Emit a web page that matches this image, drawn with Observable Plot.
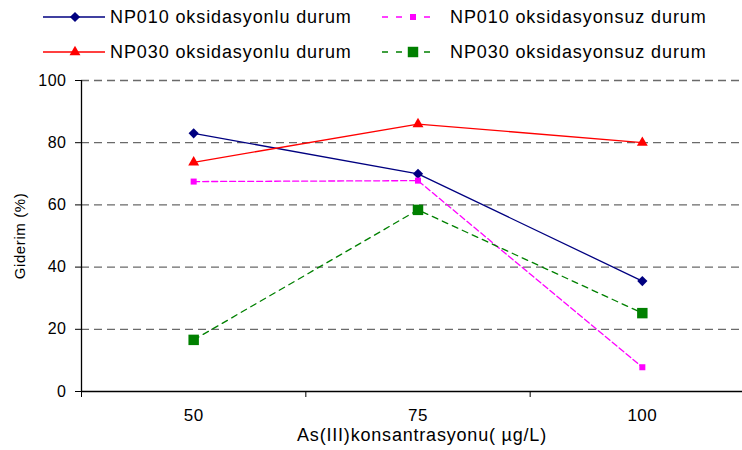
<!DOCTYPE html>
<html>
<head>
<meta charset="utf-8">
<script src="https://cdn.jsdelivr.net/npm/d3@7"></script>
<script src="https://cdn.jsdelivr.net/npm/@observablehq/plot@0.6"></script>
<style>
  body { margin: 0; background: #fff; font-family: "Liberation Sans", Arial, sans-serif; }
  #legend { display: block; }
  #chart svg { display: block; }
</style>
</head>
<body>
<svg id="legend" width="742" height="68"></svg>
<div id="chart"></div>
<script>
// ---- data ----
const concentrations = [50, 75, 100];
const seriesNames = [
  "NP010 oksidasyonlu durum",
  "NP010 oksidasyonsuz durum",
  "NP030 oksidasyonlu durum",
  "NP030 oksidasyonsuz durum"
];
const np010Oks   = [83, 70, 35.5];
const np010Oksuz = [67.5, 67.8, 7.8];
const np030Oks   = [73.7, 86, 80];
const np030Oksuz = [16.6, 58.4, 25.2];
const yTicks = [0, 20, 40, 60, 80, 100];
const xLabel = "As(III)konsantrasyonu( µg/L)";
const yLabel = "Giderim (%)";

// ---- styles ----
const seriesValues = [np010Oks, np010Oksuz, np030Oks, np030Oksuz];
const styles = [
  {color: "#000080", dash: null,  symbol: "diamond2",  d3sym: d3.symbolDiamond2,  r: 4.6},
  {color: "#FF00FF", dash: "6,3", symbol: "square",    d3sym: d3.symbolSquare,    r: 3.4},
  {color: "#FF0000", dash: null,  symbol: "triangle2", d3sym: d3.symbolTriangle2, r: 5.2},
  {color: "#008000", dash: "6,5", symbol: "square",    d3sym: d3.symbolSquare,    r: 5.9}
];

const rows = [];
seriesNames.forEach((name, i) => {
  concentrations.forEach((c, j) => rows.push({series: name, conc: c, value: seriesValues[i][j]}));
});

const step = concentrations[1] - concentrations[0];
const xDomain = [concentrations[0] - step / 2, concentrations[concentrations.length - 1] + step / 2];
const boundaries = d3.range(xDomain[0], xDomain[1] + step / 2, step);

const marks = [
  Plot.ruleY(yTicks.filter(d => d > 0), {stroke: "#6a6a6a", strokeWidth: 1.3, strokeDasharray: "8,5"})
];
seriesNames.forEach((name, i) => {
  const s = styles[i];
  const data = rows.filter(d => d.series === name);
  marks.push(Plot.line(data, {x: "conc", y: "value", stroke: s.color, strokeWidth: 1.3, strokeDasharray: s.dash}));
});
seriesNames.forEach((name, i) => {
  const s = styles[i];
  const data = rows.filter(d => d.series === name);
  marks.push(Plot.dot(data, {x: "conc", y: "value", symbol: () => s.symbol, fill: s.color, stroke: "none", r: s.r}));
});
marks.push(
  Plot.ruleY([0], {stroke: "#000", strokeWidth: 1.3}),
  Plot.ruleX([xDomain[0]], {y1: 0, y2: yTicks[yTicks.length - 1], stroke: "#000", strokeWidth: 1.3}),
  Plot.axisY({ticks: yTicks, tickSize: 6, tickPadding: 9, label: null, stroke: "#000", fontSize: 16}),
  Plot.axisX({ticks: boundaries, tickSize: 6, tickFormat: () => "", label: null, stroke: "#000"}),
  Plot.axisX({ticks: concentrations, tickSize: 0, tickPadding: 17, label: null, fontSize: 17}),
  Plot.text([yLabel], {frameAnchor: "left", textAnchor: "middle", rotate: -90, dx: -61, fill: "#000", fontSize: 15}),
  Plot.text([xLabel], {frameAnchor: "bottom", textAnchor: "middle", dy: 49, dx: 10, fill: "#000", fontSize: 18})
);

const chart = Plot.plot({
  width: 742,
  height: 382,
  marginLeft: 81,
  marginRight: 0,
  marginTop: 12,
  marginBottom: 59,
  style: {fontFamily: '"Liberation Sans", Arial, sans-serif', color: "#000", background: "#fff", overflow: "hidden"},
  x: {type: "linear", domain: xDomain, range: [81, 754], label: null},
  y: {domain: [0, 100], label: null},
  symbol: {type: "identity"},
  marks
});
document.getElementById("chart").appendChild(chart);

// font sizes / letter spacing to match the reference text
const sel = d3.select(chart);
sel.selectAll('g[aria-label="x-axis tick label"] text')
  .style("font-size", "17px").style("letter-spacing", "0.5px").attr("fill", "#000");
sel.selectAll('g[aria-label="y-axis tick label"] text')
  .style("font-size", "16px").style("letter-spacing", "0.5px").attr("fill", "#000");
const labels = sel.selectAll('g[aria-label="text"] text');
labels.filter(function () { return this.textContent === yLabel; })
  .style("font-size", "15px").style("letter-spacing", "0.6px");
labels.filter(function () { return this.textContent === xLabel; })
  .style("font-size", "18px").style("letter-spacing", "0.8px");

// ---- legend ----
const legend = d3.select("#legend");
const legendPos = [
  {lx1: 43, lx2: 105, mx: 75, tx: 110, cy: 17},
  {lx1: 382, lx2: 437, mx: 413, tx: 450, cy: 17},
  {lx1: 43, lx2: 105, mx: 75, tx: 110, cy: 52},
  {lx1: 382, lx2: 437, mx: 413, tx: 450, cy: 52}
];
seriesNames.forEach((name, i) => {
  const p = legendPos[i], s = styles[i];
  legend.append("line")
    .attr("x1", p.lx1).attr("x2", p.lx2).attr("y1", p.cy).attr("y2", p.cy)
    .attr("stroke", s.color).attr("stroke-width", 1.3)
    .attr("stroke-dasharray", s.dash ? "6,8" : null);
  legend.append("path")
    .attr("transform", `translate(${p.mx},${p.cy})`)
    .attr("d", d3.symbol(s.d3sym, Math.PI * s.r * s.r)())
    .attr("fill", s.color);
  legend.append("text")
    .attr("x", p.tx).attr("y", p.cy + 6.4)
    .attr("font-size", 18)
    .attr("fill", "#000")
    .style("letter-spacing", "0.9px")
    .style("font-family", '"Liberation Sans", Arial, sans-serif')
    .text(name);
});
</script>
</body>
</html>
